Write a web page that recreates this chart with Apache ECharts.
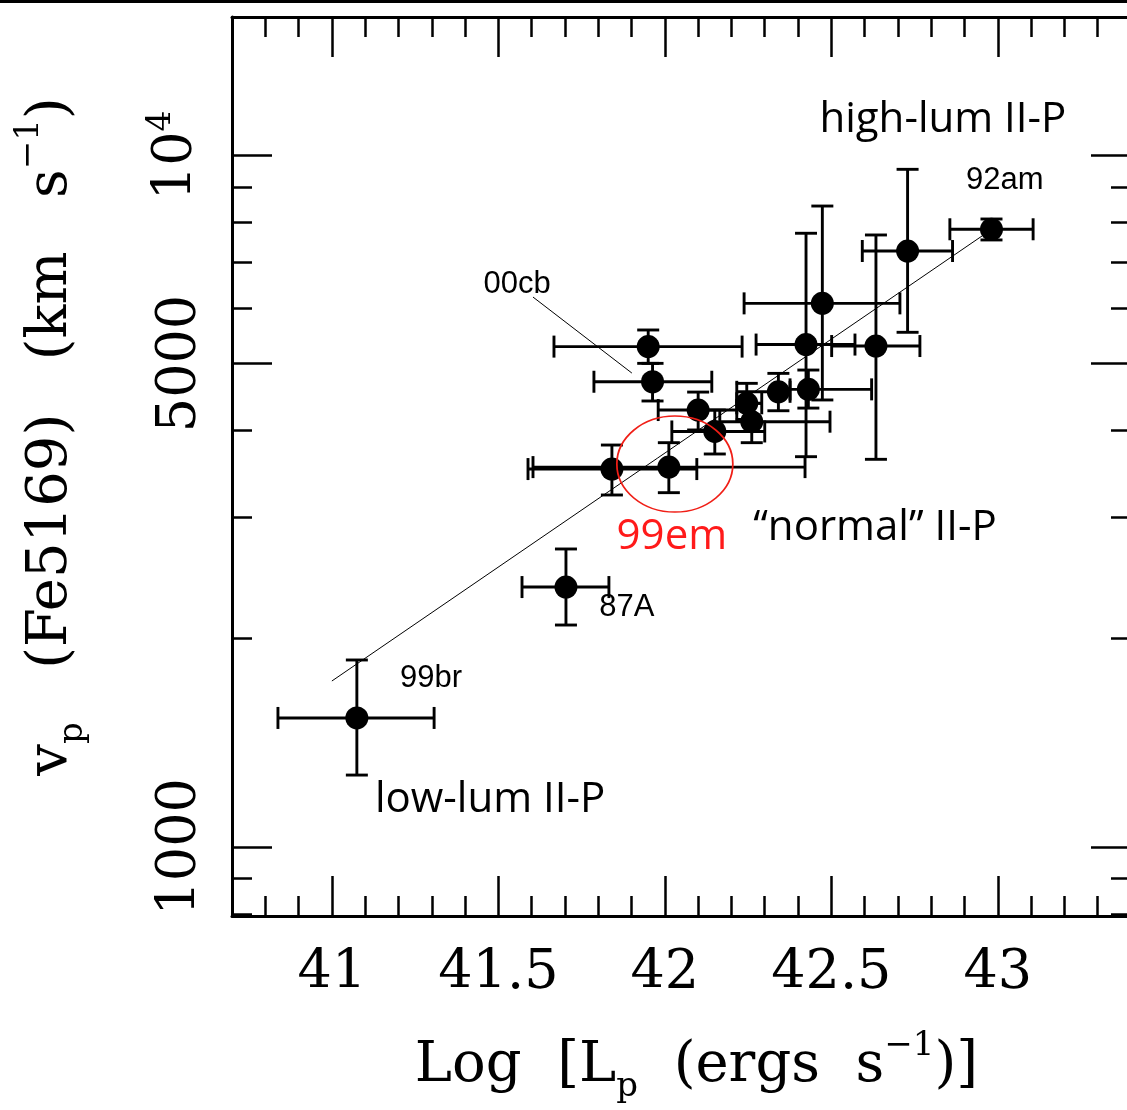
<!DOCTYPE html>
<html>
<head>
<meta charset="utf-8">
<script src="https://cdn.jsdelivr.net/npm/echarts@6/dist/echarts.min.js"></script>
<style>
  html, body { margin: 0; padding: 0; background: #fff; overflow: hidden; }
  #chart { width: 1140px; height: 1110px; }
</style>
</head>
<body>
<div id="chart"></div>
<script>
// Plateau luminosity (log L, erg/s) with its error range
const logLum   = [41.075, 41.703, 41.841, 42.012, 41.963, 41.950, 42.100, 42.150, 42.246, 42.261, 42.341, 42.431, 42.424, 42.473, 42.634, 42.729, 42.981];
const logLumLo = [40.838, 41.571, 41.589, 41.604, 41.787, 41.667, 41.980, 42.021, 42.216, 42.165, 42.216, 42.376, 42.274, 42.238, 42.501, 42.593, 42.856];
const logLumHi = [41.307, 41.832, 42.096, 42.421, 42.141, 42.232, 42.216, 42.300, 42.291, 42.496, 42.376, 42.621, 42.571, 42.706, 42.766, 42.864, 43.106];
// Fe II 5169 photospheric velocity (km/s) with its error range
const vel   = [1536, 2375, 3518, 3541, 4705, 5289, 4282, 3987, 4379, 4119, 4550, 4587, 5325, 6108, 5299, 7271, 7817];
const velLo = [1270, 2093, 3227, 3252, 4413, 5002, 4007, 3699, 4150, 3841, 4272, 4310, 3666, 4428, 3634, 5547, 7544];
const velHi = [1863, 2696, 3811, 3841, 5002, 5590, 4546, 4282, 4680, 4379, 4838, 4892, 7714, 8446, 7670, 9544, 8089];

// Power-law fit drawn across the sample
const fitLum = [41.0, 42.957];
const fitVel = [1737, 7670];

// Leader from the 00cb label to its point
const leaderLum = [41.604, 41.901];
const leaderVel = [6238, 4843];

// Axis ticks
const xMajorTicks = [41, 41.5, 42, 42.5, 43];
const xMinorTicks = [40.8, 40.9, 41.1, 41.2, 41.3, 41.4, 41.6, 41.7, 41.8, 41.9, 42.1, 42.2, 42.3, 42.4, 42.6, 42.7, 42.8, 42.9, 43.1, 43.2, 43.3];
const yMajorTicks = [1000, 5000, 10000];
const yMinorTicks = [800, 900, 2000, 3000, 4000, 6000, 7000, 8000, 9000];

const SERIF = 'DejaVu Serif';
const SANS = 'Liberation Sans';
const HUMANIST = 'Open Sans';

// Text annotations anchored in data space
const annotations = [
  { text: 'high-lum II-P',  at: [42.835, 11248], font: HUMANIST, size: 42, color: '#000' },
  { text: '92am',           at: [43.021, 9211],  font: SANS,     size: 31, color: '#000' },
  { text: '00cb',           at: [41.556, 6513],  font: SANS,     size: 31, color: '#000' },
  { text: '99em',           at: [42.021, 2806],  font: HUMANIST, size: 42, color: '#ff1a1a' },
  { text: '\u201cnormal\u201d II-P', at: [42.631, 2891], font: HUMANIST, size: 42, color: '#000' },
  { text: '87A',            at: [41.886, 2222],  font: SANS,     size: 31, color: '#000' },
  { text: '99br',           at: [41.298, 1754],  font: SANS,     size: 31, color: '#000' },
  { text: 'low-lum II-P',   at: [41.475, 1168],  font: HUMANIST, size: 42, color: '#000' }
];

const errData = logLum.map((x, i) => [x, vel[i], logLumLo[i], logLumHi[i], velLo[i], velHi[i]]);
const pointData = logLum.map((x, i) => [x, vel[i]]);

const AXIS_LINE = { show: true, lineStyle: { color: '#000', width: 3 } };
const NO_LINE = { show: false };
const TICK_W = 2.5;

function xAxisDef(position, ticks, len, main) {
  return {
    type: 'value', position, min: 40.7, max: 43.4, gridIndex: 0,
    axisLine: main ? AXIS_LINE : NO_LINE,
    axisTick: { show: true, inside: true, length: len, customValues: ticks, lineStyle: { color: '#000', width: TICK_W } },
    axisLabel: (main && position === 'bottom') ? {
      show: true, customValues: ticks, margin: 31, color: '#000', fontFamily: SERIF, fontSize: 54
    } : { show: false },
    splitLine: { show: false }, minorTick: { show: false }
  };
}

function yAxisDef(position, ticks, len, main) {
  return {
    type: 'log', logBase: 10, position, min: Math.pow(10, 2.9), max: Math.pow(10, 4.2), gridIndex: 0,
    axisLine: main ? AXIS_LINE : NO_LINE,
    axisTick: { show: true, inside: true, length: len, customValues: ticks, lineStyle: { color: '#000', width: TICK_W } },
    axisLabel: (main && position === 'left') ? {
      show: true, customValues: ticks, rotate: 90, margin: 24, color: '#000', fontFamily: SERIF, fontSize: 54,
      formatter: v => (v === 10000 ? '10{sup|4}' : String(v)),
      rich: { sup: { fontFamily: SERIF, fontSize: 33, color: '#000', padding: [0, 0, 30, 0] } }
    } : { show: false },
    splitLine: { show: false }, minorTick: { show: false }
  };
}

const xAxes = [
  xAxisDef('bottom', xMajorTicks, 40, true),
  xAxisDef('bottom', xMinorTicks, 20, false),
  xAxisDef('top', xMajorTicks, 40, true),
  xAxisDef('top', xMinorTicks, 20, false)
];
xAxes[0].name = 'Log  [L{sub|p}  (ergs  s{sup|\u22121})]';
xAxes[0].nameLocation = 'middle';
xAxes[0].nameGap = 112;
xAxes[0].nameTextStyle = {
  fontFamily: SERIF, fontSize: 56, color: '#000', padding: [0, 0, 0, 30],
  rich: {
    sub: { fontFamily: SERIF, fontSize: 34, color: '#000', padding: [42, 0, 0, 0] },
    sup: { fontFamily: SERIF, fontSize: 34, color: '#000', padding: [0, 0, 40, 0] }
  }
};

const yAxes = [
  yAxisDef('left', yMajorTicks, 40, true),
  yAxisDef('left', yMinorTicks, 20, false),
  yAxisDef('right', yMajorTicks, 40, true),
  yAxisDef('right', yMinorTicks, 20, false)
];
yAxes[0].name = 'v{sub|p}   (Fe5169)   (km   s{sup|\u22121})';
yAxes[0].nameLocation = 'middle';
yAxes[0].nameRotate = 90;
yAxes[0].nameGap = 142;
yAxes[0].nameTextStyle = {
  fontFamily: SERIF, fontSize: 56, color: '#000', padding: [0, 0, 0, 60],
  rich: {
    sub: { fontFamily: SERIF, fontSize: 34, color: '#000', padding: [44, 0, 0, 0] },
    sup: { fontFamily: SERIF, fontSize: 34, color: '#000', padding: [0, 0, 44, 0] }
  }
};

function renderErrorBar(params, api) {
  const x = api.value(0), y = api.value(1);
  const l = api.coord([api.value(2), y]);
  const r = api.coord([api.value(3), y]);
  const b = api.coord([x, api.value(4)]);
  const t = api.coord([x, api.value(5)]);
  const cap = 11;
  const seg = (x1, y1, x2, y2) => ({
    type: 'line', shape: { x1, y1, x2, y2 },
    style: { stroke: '#000', lineWidth: 2.9, fill: null }
  });
  return {
    type: 'group',
    children: [
      seg(l[0], l[1], r[0], r[1]),
      seg(l[0], l[1] - cap, l[0], l[1] + cap),
      seg(r[0], r[1] - cap, r[0], r[1] + cap),
      seg(b[0], b[1], t[0], t[1]),
      seg(b[0] - cap, b[1], b[0] + cap, b[1]),
      seg(t[0] - cap, t[1], t[0] + cap, t[1])
    ]
  };
}

const chart = echarts.init(document.getElementById('chart'), null, { renderer: 'canvas' });
chart.setOption({
  animation: false,
  backgroundColor: '#fff',
  grid: { left: 232, top: 17, width: 899, height: 899, outerBoundsMode: 'none', containLabel: false },
  xAxis: xAxes,
  yAxis: yAxes,
  graphic: [
    { type: 'rect', left: 0, top: 0, z: 100, shape: { width: 1140, height: 3 }, style: { fill: '#000' } }
  ],
  series: [
    {
      name: 'fit', type: 'line', xAxisIndex: 0, yAxisIndex: 0, z: 2,
      data: fitLum.map((x, i) => [x, fitVel[i]]),
      symbol: 'none', lineStyle: { color: '#000', width: 1 }
    },
    {
      name: 'leader', type: 'line', xAxisIndex: 0, yAxisIndex: 0, z: 2,
      data: leaderLum.map((x, i) => [x, leaderVel[i]]),
      symbol: 'none', lineStyle: { color: '#000', width: 1 }
    },
    {
      name: 'errors', type: 'custom', xAxisIndex: 0, yAxisIndex: 0, z: 3,
      data: errData, encode: { x: 0, y: 1 }, renderItem: renderErrorBar
    },
    {
      name: 'SNe II-P', type: 'scatter', xAxisIndex: 0, yAxisIndex: 0, z: 4,
      data: pointData, symbol: 'circle', symbolSize: 23,
      itemStyle: { color: '#000', opacity: 1 }
    },
    {
      name: 'highlight', type: 'scatter', xAxisIndex: 0, yAxisIndex: 0, z: 5,
      data: [[42.030, 3577]], symbol: 'circle', symbolSize: [116, 96],
      itemStyle: { color: 'rgba(0,0,0,0)', borderColor: '#f01e16', borderWidth: 1.6, opacity: 1 },
      silent: true
    },
    {
      name: 'labels', type: 'scatter', xAxisIndex: 0, yAxisIndex: 0, z: 6,
      symbolSize: 1, itemStyle: { color: 'rgba(0,0,0,0)', opacity: 1 }, silent: true,
      data: annotations.map(a => ({
        value: a.at,
        label: {
          show: true, position: 'inside', formatter: a.text, opacity: 1,
          fontFamily: a.font, fontSize: a.size, color: a.color
        }
      }))
    }
  ]
});
</script>
</body>
</html>
